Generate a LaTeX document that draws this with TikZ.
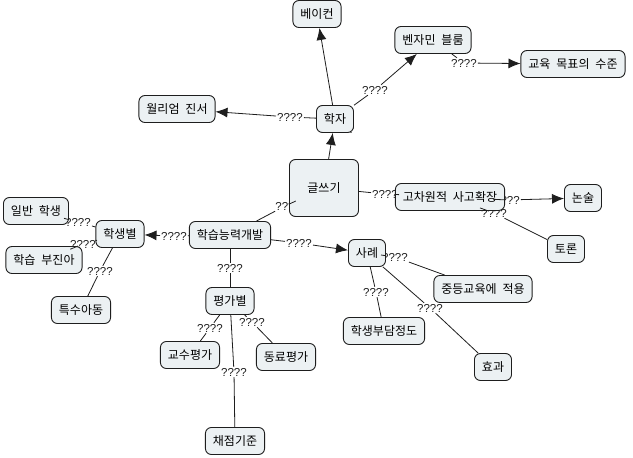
\documentclass[tikz,border=0pt]{standalone}
\usepackage{fontspec}
\setmainfont[WordSpace=2.2]{Noto Sans CJK KR}
\newfontfamily\qfont{Liberation Sans}
\usepackage{xcolor}
\usetikzlibrary{arrows.meta}
\definecolor{MapFill}{HTML}{ECF1F3}
\definecolor{MapLine}{HTML}{1E1E1E}

\begin{document}
\begin{tikzpicture}[
    x=1pt, y=-1pt,
    concept/.style={
      rounded corners=6pt,
      fill=MapFill,
      draw=MapLine,
      line width=0.9pt,
      minimum height=27pt,
      inner xsep=7.5pt,
      font=\fontsize{12}{14}\selectfont
    },
    linkword/.style={
      inner sep=1pt,
      text=MapLine,
      font=\qfont\fontsize{11.5}{12}\selectfont
    },
    link/.style={draw=MapLine, line width=0.8pt},
    linkto/.style={link, -{Latex[length=12pt,width=10pt]}}
  ]
    \useasboundingbox[fill=white] (0,0) rectangle (633,458);

    % linking phrases (drawn first, so the concepts cover them)
    \node[linkword] (q-write-scholar) at (345,129) {???};
    \node[linkword] (q-scholar-zinsser) at (290,117) {????};
    \node[linkword] (q-scholar-bloom) at (375,90) {????};
    \node[linkword] (q-bloom-goal) at (464,63) {????};
    \node[linkword] (q-write-think) at (385,194) {????};
    \node[linkword] (q-think-essay) at (507,200) {????};
    \node[linkword] (q-think-debate) at (494,213) {????};
    \node[linkword] (q-write-ability) at (285,206) {???};
    \node[linkword] (q-ability-student) at (174,236) {????};
    \node[linkword] (q-ability-cases) at (299,243) {????};
    \node[linkword] (q-ability-eval) at (230,268) {????};
    \node[linkword] (q-student-general) at (78,222) {????};
    \node[linkword] (q-student-slow) at (83,244) {????};
    \node[linkword] (q-student-special) at (100,271) {????};
    \node[linkword] (q-eval-prof) at (210,328) {????};
    \node[linkword] (q-eval-peer) at (252,322) {????};
    \node[linkword] (q-eval-rubric) at (234,372) {????};
    \node[linkword] (q-cases-second) at (395,257) {????};
    \node[linkword] (q-cases-burden) at (376,292) {????};
    \node[linkword] (q-cases-effect) at (430,308) {????};

    % concepts
    \node[concept] (bacon) at (317,14) {베이컨};
    \node[concept] (bloom) at (433,40) {벤자민 블룸};
    \node[concept] (goal) at (573,64) {교육 목표의 수준};
    \node[concept] (zinsser) at (177,109) {월리엄 진서};
    \node[concept] (scholar) at (335,119) {학자};
    \node[concept, minimum width=69pt, minimum height=57pt] (writing) at (324,188) {글쓰기};
    \node[concept] (think) at (450,197) {고차원적 사고확장};
    \node[concept] (essay) at (583,198) {논술};
    \node[concept] (debate) at (566,249) {토론};
    \node[concept] (general) at (36,211) {일반 학생};
    \node[concept] (student) at (120,234) {학생별};
    \node[concept] (ability) at (230,235) {학습능력개발};
    \node[concept] (slow) at (44,260) {학습 부진아};
    \node[concept] (cases) at (367,253) {사례};
    \node[concept] (second) at (483,289) {중등교육에 적용};
    \node[concept] (special) at (81,310) {특수아동};
    \node[concept] (eval) at (230,301) {평가별};
    \node[concept] (burden) at (384,331) {학생부담정도};
    \node[concept] (prof) at (190,355) {교수평가};
    \node[concept] (peer) at (286,357) {동료평가};
    \node[concept] (effect) at (493,367) {효과};
    \node[concept] (rubric) at (235,441) {채점기준};

    % connectors
    \draw[linkto] (writing) -- (scholar);
    \draw[linkto] (scholar) -- (bacon);
    \draw[link] (scholar) -- (q-scholar-zinsser);
    \draw[linkto] (q-scholar-zinsser) -- (zinsser);
    \draw[link] (scholar) -- (q-scholar-bloom);
    \draw[linkto] (q-scholar-bloom) -- (bloom);
    \draw[link] (bloom) -- (q-bloom-goal);
    \draw[linkto] (q-bloom-goal) -- (goal);
    \draw[link] (writing) -- (q-write-think) -- (think);
    \draw[link] (think) -- (q-think-essay);
    \draw[linkto] (q-think-essay) -- (essay);
    \draw[link] (think) -- (q-think-debate) -- (debate);
    \draw[link] (writing) -- (q-write-ability) -- (ability);
    \draw[link] (ability) -- (q-ability-student);
    \draw[linkto] (q-ability-student) -- (student);
    \draw[link] (ability) -- (q-ability-cases);
    \draw[linkto] (q-ability-cases) -- (cases);
    \draw[link] (ability) -- (q-ability-eval) -- (eval);
    \draw[link] (student) -- (q-student-general) -- (general);
    \draw[link] (student) -- (q-student-slow) -- (slow);
    \draw[link] (student) -- (q-student-special) -- (special);
    \draw[link] (eval) -- (q-eval-prof) -- (prof);
    \draw[link] (eval) -- (q-eval-peer) -- (peer);
    \draw[link] (eval) -- (q-eval-rubric) -- (rubric);
    \draw[link] (cases) -- (q-cases-second) -- (second);
    \draw[link] (cases) -- (q-cases-burden) -- (burden);
    \draw[link] (cases) -- (q-cases-effect) -- (effect);
  \end{tikzpicture}
\end{document}
